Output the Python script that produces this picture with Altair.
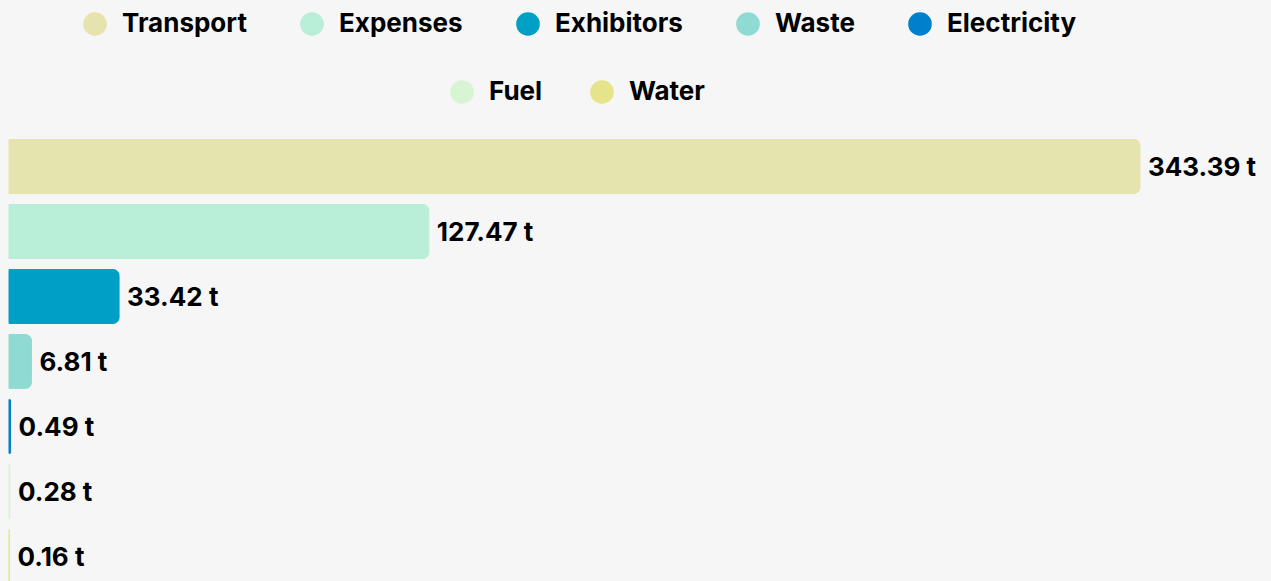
import altair as alt
import pandas as pd

categories = ["Transport", "Expenses", "Exhibitors", "Waste", "Electricity", "Fuel", "Water"]
values = [343.39, 127.47, 33.42, 6.81, 0.49, 0.28, 0.16]
colors = ["#e5e4ae", "#b9eed8", "#009fc6", "#8fdbd3", "#0080cc", "#d7f5d2", "#e6e48a"]
labels = [f"{v:.2f} t" for v in values]
groups = [1, 1, 1, 1, 1, 2, 2]

df = pd.DataFrame({"category": categories, "value": values, "label": labels, "group": groups})

FONT = "Inter"
FSIZE = 26

y = alt.Y("category:N", sort=categories, axis=None,
          scale=alt.Scale(paddingInner=0.17, paddingOuter=0.085))
x = alt.X("value:Q", axis=None, scale=alt.Scale(domain=[0, 343.39], nice=False))

legend_common = dict(
    orient="none", direction="horizontal", symbolType="circle", symbolSize=560,
    labelFont=FONT, labelFontSize=FSIZE, labelFontWeight="bold", labelColor="#000000",
    labelOffset=14, title=None, symbolStrokeWidth=0, labelLimit=400,
)


def bar_layer(cats, cols, lx, ly, pad):
    sc = alt.Scale(domain=cats, range=cols)
    return alt.Chart(df).transform_filter(
        alt.FieldOneOfPredicate(field="category", oneOf=cats)
    ).mark_bar(cornerRadiusEnd=6, strokeWidth=1).encode(
        x=x, y=y,
        color=alt.Color("category:N", sort=cats, scale=sc,
                        legend=alt.Legend(legendX=lx, legendY=ly, columnPadding=pad,
                                          **legend_common)),
        stroke=alt.Stroke("category:N", scale=sc, legend=None),
    )


bars1 = bar_layer(categories[:5], colors[:5], 73, -123, 52)
bars2 = bar_layer(categories[5:], colors[5:], 440, -55, 46)

text = alt.Chart(df).mark_text(align="left", dx=8, dy=1, font=FONT, fontSize=FSIZE,
                               fontWeight="bold", color="#000000").encode(
    x=x, y=y, text="label:N")

chart = alt.layer(bars1, bars2, text).resolve_scale(
    color="independent", stroke="independent"
).properties(
    width=1131, height=455, background="#f6f6f6",
    padding={"left": 9, "top": 134, "right": 131, "bottom": 0},
    autosize=alt.AutoSizeParams(type="none"),
).configure_view(stroke=None)

chart.save("out.html", embed_options={"renderer": "svg", "actions": False})
